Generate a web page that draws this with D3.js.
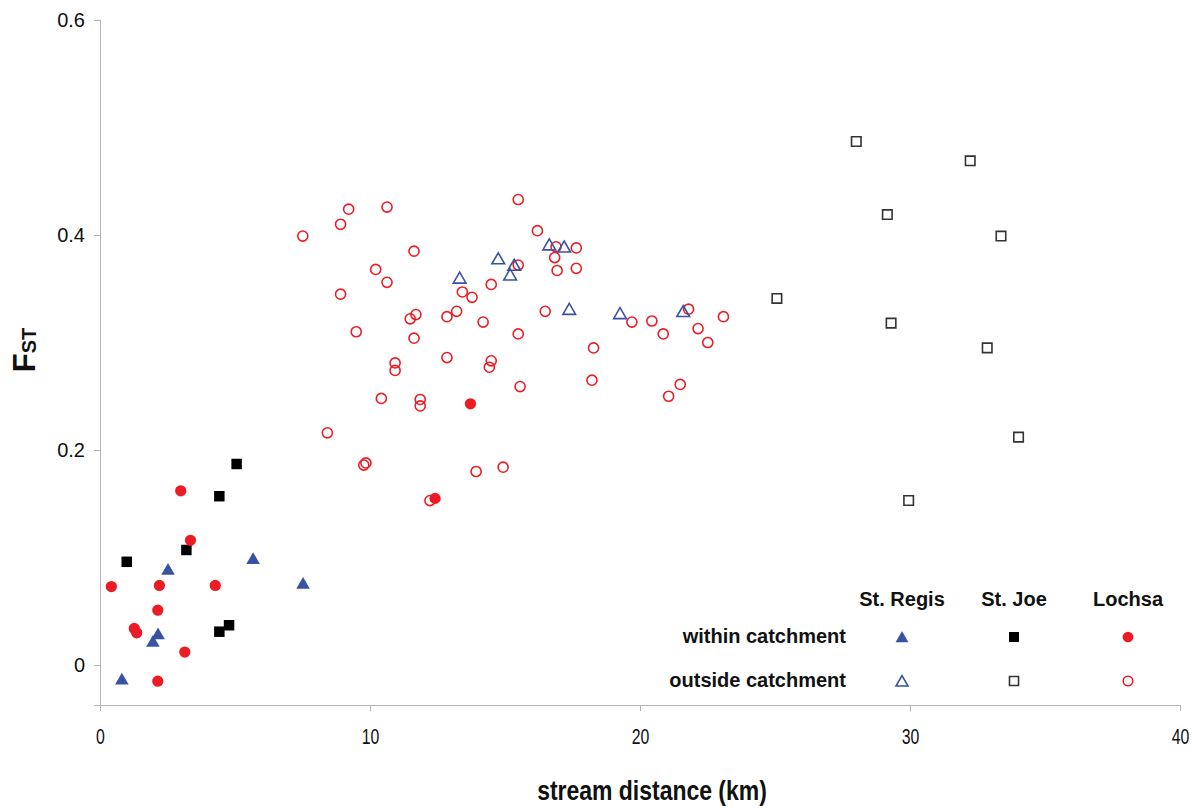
<!DOCTYPE html>
<html>
<head>
    <meta charset='utf-8' />
    <title>FST vs stream distance</title>
    <script src="https://cdn.jsdelivr.net/npm/d3@7"></script>
    <style type="text/css">
        body {
            margin: 0;
            background: #fff;
        }
        .axis path,
        .axis line {
            fill: none;
            stroke: #b4b4b4;
            stroke-width: 1px;
            shape-rendering: crispEdges;
        }
        .y.axis text {
            font-family: "Liberation Sans", Arial, sans-serif;
            font-size: 20px;
            fill: #111;
        }
        .x.axis text {
            font-family: "Liberation Sans", Arial, sans-serif;
            font-size: 22px;
            fill: #111;
        }
        .legend text {
            font-family: "Liberation Sans", Arial, sans-serif;
            font-weight: bold;
            font-size: 20px;
            fill: #111;
        }
    </style>
</head>
<body>

<div id="chart"></div>

<script type="text/javascript">
    // [stream distance km, FST]
    var regisWithin = [[0.81, -0.013], [1.96, 0.022], [2.15, 0.029], [2.52, 0.089], [5.67, 0.099], [7.52, 0.076]];
    var joeWithin = [[5.06, 0.187], [4.42, 0.157], [3.20, 0.107], [0.99, 0.096], [4.42, 0.031], [4.78, 0.037]];
    var lochsaWithin = [[2.99, 0.162], [3.35, 0.116], [0.42, 0.073], [2.20, 0.074], [4.27, 0.074], [2.14, 0.051],
        [1.27, 0.034], [1.36, 0.030], [3.14, 0.012], [2.14, -0.015], [13.72, 0.243], [12.41, 0.155]];

    var regisOutside = [[13.32, 0.360], [14.75, 0.378], [15.34, 0.372], [15.19, 0.363], [16.64, 0.391],
        [17.19, 0.389], [17.38, 0.331], [19.26, 0.327], [21.60, 0.329]];
    var joeOutside = [[28.01, 0.487], [32.23, 0.469], [29.16, 0.419], [33.37, 0.399], [25.07, 0.341],
        [29.30, 0.318], [32.86, 0.295], [34.02, 0.212], [29.95, 0.153]];
    var lochsaOutside = [[15.49, 0.433], [9.21, 0.424], [10.63, 0.426], [8.91, 0.410], [7.51, 0.399], [16.20, 0.404],
        [11.63, 0.385], [16.89, 0.389], [16.84, 0.379], [16.93, 0.367], [10.21, 0.368], [10.63, 0.356],
        [8.91, 0.345], [15.49, 0.372], [14.49, 0.354], [13.42, 0.347], [13.78, 0.342], [11.70, 0.326],
        [11.49, 0.322], [12.85, 0.324], [13.21, 0.329], [14.19, 0.319], [16.49, 0.329], [9.49, 0.310],
        [11.63, 0.304], [15.49, 0.308], [12.85, 0.286], [10.93, 0.281], [10.93, 0.274], [14.49, 0.283],
        [14.42, 0.277], [10.42, 0.248], [11.86, 0.247], [11.86, 0.241], [15.56, 0.259], [8.42, 0.216],
        [9.85, 0.188], [9.77, 0.186], [13.93, 0.180], [14.93, 0.184], [12.22, 0.153], [18.28, 0.295],
        [18.22, 0.265], [19.70, 0.319], [20.44, 0.320], [20.86, 0.308], [21.80, 0.331], [22.15, 0.313],
        [22.51, 0.300], [23.09, 0.324], [21.49, 0.261], [21.06, 0.250], [17.64, 0.388], [17.64, 0.369]];

    var xTicks = [0, 10, 20, 30, 40];
    var yTicks = [0, 0.2, 0.4, 0.6];
    var rivers = ["St. Regis", "St. Joe", "Lochsa"];
    var rowLabels = ["within catchment", "outside catchment"];

    var blue = "#3953a4", red = "#ed1c24", black = "#000";

    var margin = {top: 20, right: 12, bottom: 103, left: 100},
        width = 1192,
        height = 808,
        chartWidth = width - margin.left - margin.right,
        chartHeight = height - margin.top - margin.bottom;

    var svg = d3.select("#chart").append("svg")
        .attr("width", width)
        .attr("height", height);

    var x = d3.scaleLinear().domain([0, 40]).range([0, chartWidth]);
    var y = d3.scaleLinear().domain([-0.0372, 0.6]).range([chartHeight, 0]);

    var g = svg.append("g")
        .attr("transform", "translate(" + margin.left + "," + margin.top + ")");

    // narrow look for the x labels (no condensed font installed)
    function squeeze(sel, k) {
        sel.each(function() {
            var w = this.getComputedTextLength();
            d3.select(this).attr("textLength", w * k).attr("lengthAdjust", "spacingAndGlyphs");
        });
    }

    g.append("g")
        .attr("class", "x axis")
        .attr("transform", "translate(0," + chartHeight + ")")
        .call(d3.axisBottom(x).tickValues(xTicks).tickSize(6).tickPadding(17))
        .selectAll(".tick text")
        .call(squeeze, 0.72);

    g.append("g")
        .attr("class", "y axis")
        .call(d3.axisLeft(y).tickValues(yTicks).tickSize(6).tickPadding(9)
            .tickFormat(function(d) { return d === 0 ? "0" : d.toFixed(1); }));

    // marker styles
    var styles = {
        regisWithin: {shape: d3.symbolTriangle, size: 80, fill: blue, stroke: "none"},
        joeWithin: {shape: d3.symbolSquare, size: 110, fill: black, stroke: "none"},
        lochsaWithin: {shape: d3.symbolCircle, size: 100, fill: red, stroke: "none"},
        regisOutside: {shape: d3.symbolTriangle, size: 70, fill: "none", stroke: blue},
        joeOutside: {shape: d3.symbolSquare, size: 90, fill: "#fff", stroke: "#333"},
        lochsaOutside: {shape: d3.symbolCircle, size: 80, fill: "none", stroke: red}
    };

    function drawSeries(data, st) {
        g.append("g").selectAll("path")
            .data(data)
          .enter().append("path")
            .attr("transform", function(d) {
                var dy = st.shape === d3.symbolTriangle ? 1.5 : 0;
                return "translate(" + x(d[0]) + "," + (y(d[1]) + dy) + ")";
            })
            .attr("d", d3.symbol().type(st.shape).size(st.size))
            .attr("fill", st.fill)
            .attr("stroke", st.stroke)
            .attr("stroke-width", 1.6);
    }

    drawSeries(joeOutside, styles.joeOutside);
    drawSeries(lochsaOutside, styles.lochsaOutside);
    drawSeries(regisOutside, styles.regisOutside);
    drawSeries(joeWithin, styles.joeWithin);
    drawSeries(lochsaWithin, styles.lochsaWithin);
    drawSeries(regisWithin, styles.regisWithin);

    // axis titles
    svg.append("text")
        .attr("x", 652)
        .attr("y", 800)
        .attr("text-anchor", "middle")
        .style("font-family", '"Liberation Sans", Arial, sans-serif')
        .style("font-weight", "bold")
        .style("font-size", "28px")
        .style("fill", "#111")
        .text("stream distance (km)")
        .call(squeeze, 0.82);

    var yTitle = svg.append("text")
        .attr("transform", "translate(35,350) rotate(-90)")
        .attr("text-anchor", "middle")
        .style("font-family", '"Liberation Sans", Arial, sans-serif')
        .style("font-weight", "bold")
        .style("fill", "#111");
    yTitle.append("tspan").style("font-size", "31px").text("F");
    yTitle.append("tspan").style("font-size", "20px").attr("dy", 1).text("ST");

    // legend
    var legend = svg.append("g").attr("class", "legend");
    var colX = [902, 1014, 1128];
    var rowY = [637, 681];

    legend.selectAll(".head")
        .data(rivers)
      .enter().append("text")
        .attr("class", "head")
        .attr("x", function(d, i) { return colX[i]; })
        .attr("y", 606)
        .attr("text-anchor", "middle")
        .text(function(d) { return d; });

    legend.selectAll(".row")
        .data(rowLabels)
      .enter().append("text")
        .attr("class", "row")
        .attr("x", 846)
        .attr("y", function(d, i) { return rowY[i] + 6; })
        .attr("text-anchor", "end")
        .text(function(d) { return d; });

    var legendKeys = [
        [styles.regisWithin, styles.joeWithin, styles.lochsaWithin],
        [styles.regisOutside, styles.joeOutside, styles.lochsaOutside]
    ];
    legendKeys.forEach(function(row, r) {
        row.forEach(function(st, c) {
            var dy = st.shape === d3.symbolTriangle ? 1.5 : 0;
            legend.append("path")
                .attr("transform", "translate(" + colX[c] + "," + (rowY[r] + dy) + ")")
                .attr("d", d3.symbol().type(st.shape).size(st.size * 0.9))
                .attr("fill", st.fill)
                .attr("stroke", st.stroke)
                .attr("stroke-width", 1.6);
        });
    });
</script>

</body>
</html>
